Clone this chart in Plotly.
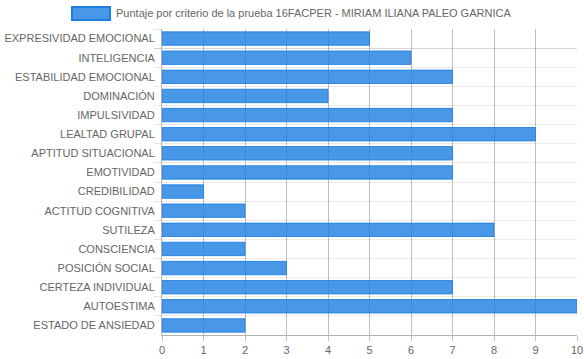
import plotly.graph_objects as go

categories = ["EXPRESIVIDAD EMOCIONAL", "INTELIGENCIA", "ESTABILIDAD EMOCIONAL", "DOMINACIÓN",
              "IMPULSIVIDAD", "LEALTAD GRUPAL", "APTITUD SITUACIONAL", "EMOTIVIDAD",
              "CREDIBILIDAD", "ACTITUD COGNITIVA", "SUTILEZA", "CONSCIENCIA",
              "POSICIÓN SOCIAL", "CERTEZA INDIVIDUAL", "AUTOESTIMA", "ESTADO DE ANSIEDAD"]
values = [5, 6, 7, 4, 7, 9, 7, 7, 1, 2, 8, 2, 3, 7, 10, 2]
series_name = "Puntaje por criterio de la prueba 16FACPER - MIRIAM ILIANA PALEO GARNICA"
x_ticks = list(range(0, 11))

font = dict(family="Liberation Sans, Arial, sans-serif", size=11, color="#666666")

fig = go.Figure(go.Bar(
    x=values, y=categories, orientation="h", name=series_name,
    marker=dict(color="rgba(28,126,225,0.8)", line=dict(color="rgba(28,126,225,0.85)", width=1)),
    width=0.7, showlegend=False, hoverinfo="skip",
))

fig.update_layout(
    width=584, height=359,
    margin=dict(l=162, r=7, t=29, b=24),
    paper_bgcolor="white", plot_bgcolor="white",
    font=font,
)
fig.update_xaxes(
    range=[0, 10], tickvals=x_ticks, ticktext=[str(v) for v in x_ticks],
    showgrid=True, gridcolor="rgba(0,0,0,0.25)", gridwidth=1,
    ticks="outside", ticklen=5, tickcolor="rgba(0,0,0,0.25)",
    showline=True, linecolor="rgba(0,0,0,0.3)", zeroline=False,
    tickfont=dict(size=11, color="#666666"), fixedrange=True, automargin=False,
)
fig.update_yaxes(
    autorange="reversed", type="category", tickson="boundaries",
    showgrid=True, gridcolor="rgba(0,0,0,0.08)",
    ticks="outside", ticklen=7, tickcolor="rgba(0,0,0,0.1)",
    showline=True, linecolor="rgba(0,0,0,0.3)", ticklabelstandoff=4,
    tickfont=dict(size=11, color="#666666"), fixedrange=True, automargin=False,
)

# Chart.js-style legend at top
fig.add_shape(type="rect", xref="paper", yref="paper",
              x0=(72 - 162) / 415, x1=(110 - 162) / 415,
              y0=1 + (29 - 20) / 306, y1=1 + (29 - 7) / 306,
              fillcolor="rgba(28,126,225,0.8)", line=dict(color="#1c7ee1", width=2))
fig.add_annotation(text=series_name, xref="paper", yref="paper",
                   x=(114 - 162) / 415, y=1 + (29 - 13.5) / 306,
                   xanchor="left", yanchor="middle", showarrow=False,
                   font=dict(size=11, color="#666666"))

fig.write_html("out.html", config={"displayModeBar": False, "staticPlot": True},
               post_script="document.body.style.margin='0';document.body.style.overflow='hidden';")
